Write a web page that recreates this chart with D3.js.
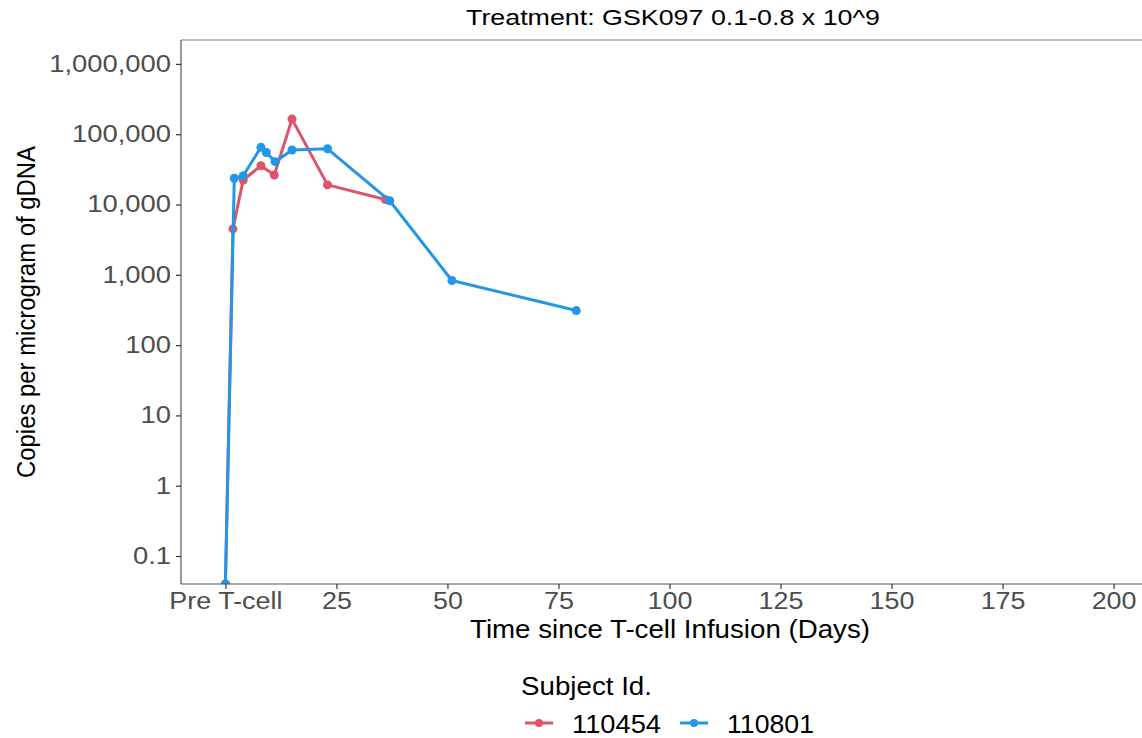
<!DOCTYPE html>
<html>
<head>
<meta charset="utf-8">
<script src="https://cdn.jsdelivr.net/npm/d3@7"></script>
<style>
  body { margin: 0; background: #fff; }
  text { font-family: "Liberation Sans", Arial, sans-serif; }
</style>
</head>
<body>
<svg id="chart" width="1142" height="738"></svg>
<script>
// Data (day 0 = "Pre T-cell")
const subjects = ["110454", "110801"];
const colors = ["#DF536B", "#2297E6"];

const days110454 = [0, 1.7, 4, 8, 11, 15, 23, 36];
const copies110454 = [0.04, 4500, 22300, 35600, 26300, 164000, 19000, 11800];

const days110801 = [0, 2, 4, 8, 9.2, 11.2, 15, 23, 37, 51, 79];
const copies110801 = [0.04, 23600, 25700, 65000, 55000, 40700, 59600, 62000, 11300, 830, 310];

const xTicks = [0, 25, 50, 75, 100, 125, 150, 175, 200];
const yTicks = [0.1, 1, 10, 100, 1000, 10000, 100000, 1000000];

const series = [
    { id: subjects[0], color: colors[0], values: days110454.map((d, i) => ({ day: d, copies: copies110454[i] })) },
    { id: subjects[1], color: colors[1], values: days110801.map((d, i) => ({ day: d, copies: copies110801[i] })) }
];

// Panel layout
const panel = { left: 181, right: 1158, top: 40, bottom: 584 };
const svg = d3.select("#chart");

const x = d3.scaleLinear()
    .domain([-10, 210])
    .range([panel.left, panel.right]);

const y = d3.scaleLog()
    .domain([Math.pow(10, -1.398), Math.pow(10, 6.34)])
    .range([panel.bottom, panel.top]);

// stretch text horizontally a bit, like the reference
function stretch(sel, k) {
    sel.each(function() {
        const w = this.getComputedTextLength();
        d3.select(this).attr("textLength", w * k).attr("lengthAdjust", "spacingAndGlyphs");
    });
}

// Title
svg.append("text")
    .attr("x", 673)
    .attr("y", 25)
    .attr("text-anchor", "middle")
    .attr("font-size", 22)
    .attr("fill", "#000")
    .text("Treatment: GSK097 0.1-0.8 x 10^9")
    .attr("textLength", 414)
    .attr("lengthAdjust", "spacingAndGlyphs");

// Clip for the panel
svg.append("clipPath").attr("id", "panel-clip")
    .append("rect")
    .attr("x", panel.left)
    .attr("y", panel.top)
    .attr("width", panel.right - panel.left)
    .attr("height", panel.bottom - panel.top);

// Panel border (top)
svg.append("path")
    .attr("d", `M${panel.left},${panel.top}H${panel.right}`)
    .attr("fill", "none")
    .attr("stroke", "#7f7f7f")
    .attr("stroke-width", 1.2);

// Lines and points
const plot = svg.append("g").attr("clip-path", "url(#panel-clip)");
const line = d3.line()
    .x(d => x(d.day))
    .y(d => y(d.copies));

series.forEach(function(s) {
    plot.append("path")
        .datum(s.values)
        .attr("fill", "none")
        .attr("stroke", s.color)
        .attr("stroke-width", 3)
        .attr("stroke-linejoin", "round")
        .attr("d", line);

    plot.selectAll(null)
        .data(s.values)
        .enter().append("circle")
        .attr("cx", d => x(d.day))
        .attr("cy", d => y(d.copies))
        .attr("r", 4.5)
        .attr("fill", s.color);
});

// X axis
const xAxis = svg.append("g")
    .attr("transform", "translate(0," + panel.bottom + ")")
    .call(d3.axisBottom(x)
        .tickValues(xTicks)
        .tickSize(5)
        .tickSizeOuter(0)
        .tickPadding(4)
        .tickFormat(d => d === 0 ? "Pre T-cell" : d));
xAxis.select(".domain").attr("stroke", "#555").attr("stroke-width", 1.2)
    .attr("d", `M${panel.left},0H${panel.right}`);
xAxis.selectAll(".tick line").attr("stroke", "#333").attr("stroke-width", 1.2);
xAxis.selectAll(".tick text")
    .attr("font-size", 23)
    .attr("fill", "#4D4D4D")
    .attr("font-family", "Liberation Sans, Arial, sans-serif")
    .call(stretch, 1.17);

// Y axis
const yAxis = svg.append("g")
    .attr("transform", "translate(" + panel.left + ",0)")
    .call(d3.axisLeft(y)
        .tickValues(yTicks)
        .tickSize(5)
        .tickSizeOuter(0)
        .tickPadding(5)
        .tickFormat(d3.format(",")));
yAxis.select(".domain").attr("stroke", "#555").attr("stroke-width", 1.2)
    .attr("d", `M0,${panel.top}V${panel.bottom}`);
yAxis.selectAll(".tick line").attr("stroke", "#333").attr("stroke-width", 1.2);
yAxis.selectAll(".tick text")
    .attr("font-size", 23)
    .attr("fill", "#4D4D4D")
    .attr("font-family", "Liberation Sans, Arial, sans-serif")
    .call(stretch, 1.19);

// Axis titles
svg.append("text")
    .attr("x", 670)
    .attr("y", 638)
    .attr("text-anchor", "middle")
    .attr("font-size", 25)
    .attr("fill", "#000")
    .text("Time since T-cell Infusion (Days)")
    .attr("textLength", 400)
    .attr("lengthAdjust", "spacingAndGlyphs");

svg.append("text")
    .attr("transform", "translate(35,312) rotate(-90)")
    .attr("text-anchor", "middle")
    .attr("font-size", 25)
    .attr("fill", "#000")
    .text("Copies per microgram of gDNA")
    .attr("textLength", 332)
    .attr("lengthAdjust", "spacingAndGlyphs");

// Legend
const legend = svg.append("g");
legend.append("text")
    .attr("x", 521)
    .attr("y", 695)
    .attr("font-size", 25)
    .attr("fill", "#000")
    .text("Subject Id.")
    .attr("textLength", 131)
    .attr("lengthAdjust", "spacingAndGlyphs");

const keyX = [525, 680];
const labelW = [89, 87];
series.forEach(function(s, i) {
    legend.append("line")
        .attr("x1", keyX[i])
        .attr("x2", keyX[i] + 28)
        .attr("y1", 723)
        .attr("y2", 723)
        .attr("stroke", s.color)
        .attr("stroke-width", 3);
    legend.append("circle")
        .attr("cx", keyX[i] + 14)
        .attr("cy", 723)
        .attr("r", 4)
        .attr("fill", s.color);
    legend.append("text")
        .attr("x", keyX[i] + 47)
        .attr("y", 733)
        .attr("font-size", 25)
        .attr("fill", "#000")
        .text(s.id)
        .attr("textLength", labelW[i])
        .attr("lengthAdjust", "spacingAndGlyphs");
});
</script>
</body>
</html>
